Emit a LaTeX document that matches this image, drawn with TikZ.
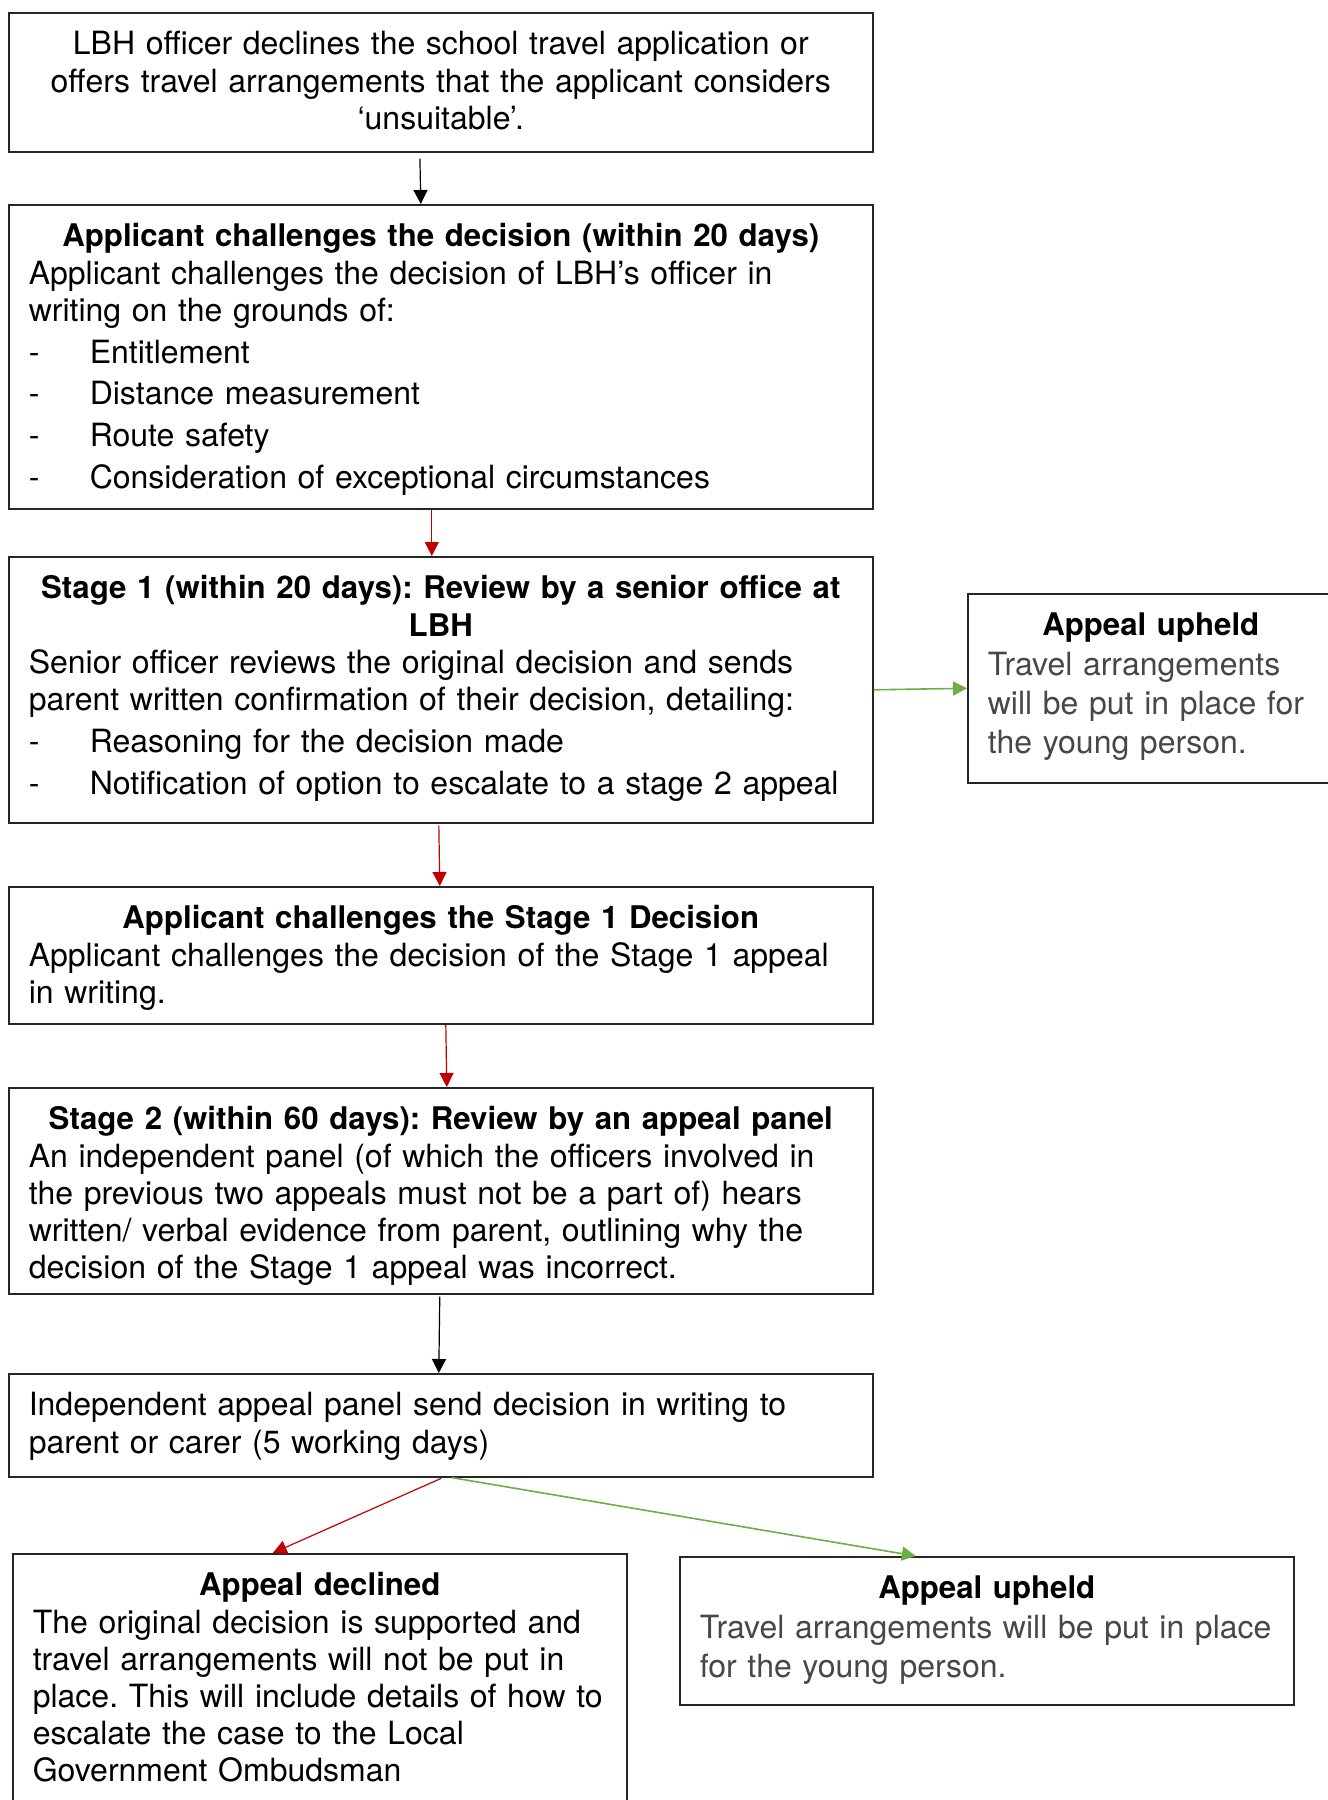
\documentclass[tikz,border=0pt]{standalone}
\usepackage{fontspec}
\setmainfont{TeX Gyre Heros}
\usepackage{xcolor}
\usepackage{tikz}
\usetikzlibrary{arrows.meta,positioning}

\definecolor{declinered}{HTML}{C00000}
\definecolor{upheldgreen}{HTML}{70AD47}

\newcommand{\boxtitle}[1]{{\centering\fontsize{15.6}{18.6}\selectfont\bfseries #1\par}}
\newcommand{\dashitem}[1]{\par\vspace{2.3pt}\noindent\makebox[30.5pt][l]{-}#1}
\newcommand{\lighttext}[1]{{\color{black!72}\fontsize{16}{19.6}\selectfont #1\par}}

\begin{document}
\begin{tikzpicture}[x=1pt, y=1pt,
    stagebox/.style={draw=black!85, line width=0.8pt, rectangle, anchor=north west,
        inner xsep=10pt, inner ysep=0pt, align=left, text width=412pt, text height=21pt,
        font=\fontsize{16}{18.6}\selectfont\frenchspacing},
    flowarrow/.style={-{Triangle[width=7pt,length=7pt]}, line width=0.6pt},
    redarrow/.style={flowarrow, declinered},
    greenarrow/.style={flowarrow, upheldgreen, line width=0.8pt}]
        \useasboundingbox (0,0) rectangle (664,-900);

        % Main column (text depth = box height - 21pt)
        \node[stagebox, align=center, text depth=48.5pt] (decline) at (4,-6)
            {LBH officer declines the school travel application or\\
             offers travel arrangements that the applicant considers\\
             ‘unsuitable’.};
        \node[stagebox, text depth=131pt] (challenge) at (4,-102)
            {\boxtitle{Applicant challenges the decision (within 20 days)}
             Applicant challenges the decision of LBH’s officer in\\
             writing on the grounds of:
             \dashitem{Entitlement}
             \dashitem{Distance measurement}
             \dashitem{Route safety}
             \dashitem{Consideration of exceptional circumstances}};
        \node[stagebox, text depth=112pt] (stageone) at (4,-278)
            {\boxtitle{Stage 1 (within 20 days): Review by a senior office at\\ LBH}
             Senior officer reviews the original decision and sends\\
             parent written confirmation of their decision, detailing:
             \dashitem{Reasoning for the decision made}
             \dashitem{Notification of option to escalate to a stage 2 appeal}};
        \node[stagebox, text depth=47.5pt] (challengetwo) at (4,-443)
            {\boxtitle{Applicant challenges the Stage 1 Decision}
             Applicant challenges the decision of the Stage 1 appeal\\
             in writing.};
        \node[stagebox, text depth=82pt] (stagetwo) at (4,-543.5)
            {\boxtitle{Stage 2 (within 60 days): Review by an appeal panel}
             An independent panel (of which the officers involved in\\
             the previous two appeals must not be a part of) hears\\
             written/ verbal evidence from parent, outlining why the\\
             decision of the Stage 1 appeal was incorrect.};
        \node[stagebox, text depth=30.5pt] (panel) at (4,-686.5)
            {Independent appeal panel send decision in writing to\\
             parent or carer (5 working days)};

        % Outcomes
        \node[stagebox, text width=163pt, text depth=73.5pt] (upheldside) at (483.5,-296.5)
            {\boxtitle{Appeal upheld}
             \lighttext{Travel arrangements\\ will be put in place for\\ the young person.}};
        \node[stagebox, text width=287pt, text depth=104pt] (declined) at (6,-776.5)
            {\boxtitle{Appeal declined}
             The original decision is supported and\\
             travel arrangements will not be put in\\
             place. This will include details of how to\\
             escalate the case to the Local\\
             Government Ombudsman};
        \node[stagebox, text width=287pt, text depth=53pt] (upheld) at (339.5,-778)
            {\boxtitle{Appeal upheld}
             \lighttext{Travel arrangements will be put in place\\ for the young person.}};

        % Arrows
        \draw[flowarrow, shorten <=3pt] ([xshift=-10.5pt]decline.south) -- ([xshift=-10pt]challenge.north);
        \draw[redarrow] ([xshift=-4.5pt]challenge.south) -- ([xshift=-4.5pt]stageone.north);
        \draw[greenarrow] (stageone.east) -- (upheldside.west);
        \draw[redarrow, shorten <=1pt] ([xshift=-1pt]stageone.south) -- ([xshift=-0.5pt]challengetwo.north);
        \draw[redarrow] ([xshift=2.5pt]challengetwo.south) -- ([xshift=3pt]stagetwo.north);
        \draw[flowarrow, shorten <=1pt] ([xshift=-0.5pt]stagetwo.south) -- ([xshift=-1pt]panel.north);
        \draw[redarrow, shorten <=1pt] ([xshift=1pt]panel.south) -- ([xshift=-23.5pt]declined.north);
        \draw[greenarrow] ([xshift=5.5pt]panel.south) -- ([xshift=-35.5pt]upheld.north);
    \end{tikzpicture}
\end{document}
